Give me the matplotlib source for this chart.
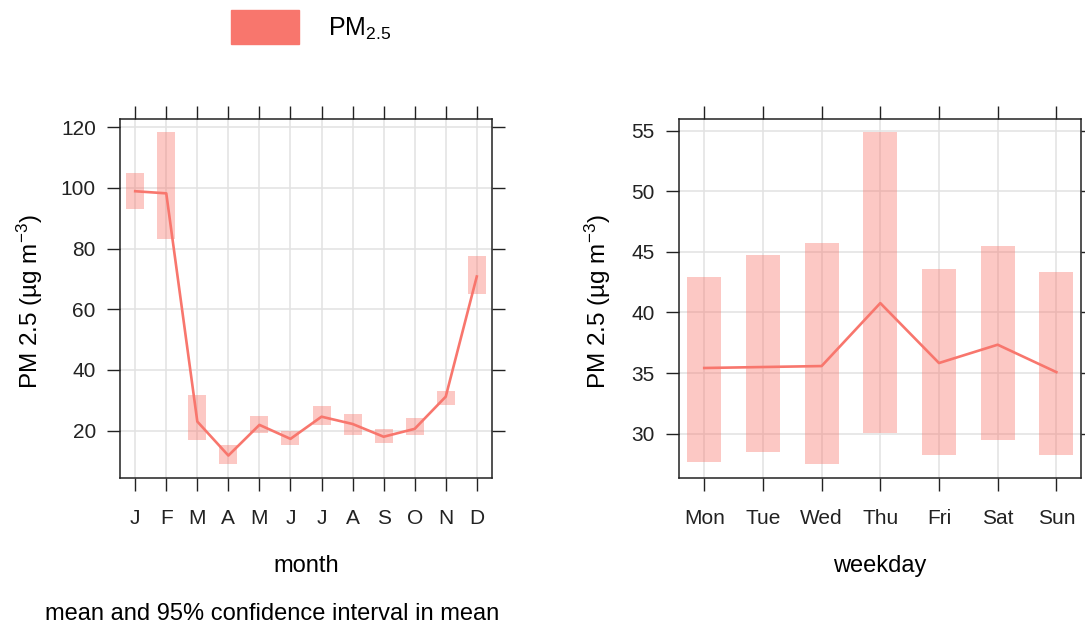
import numpy as np
import matplotlib
matplotlib.use("Agg")
import matplotlib.pyplot as plt
from matplotlib.patches import Rectangle

plt.rcParams['font.family'] = ['Liberation Sans', 'DejaVu Sans']
plt.rcParams['mathtext.fontset'] = 'custom'
plt.rcParams['mathtext.rm'] = 'Liberation Sans'
plt.rcParams['mathtext.it'] = 'Liberation Sans:italic'
plt.rcParams['mathtext.default'] = 'regular'

# dati mensili (media e intervallo di confidenza al 95%)
mesi = ["J", "F", "M", "A", "M", "J", "J", "A", "S", "O", "N", "D"]
media_mese = [98.9, 98.2, 23.0, 11.8, 21.9, 17.3, 24.6, 22.2, 18.0, 20.6, 31.2, 70.8]
ci_basso_mese = [93.2, 83.1, 16.9, 9.0, 19.2, 15.3, 21.9, 18.6, 15.8, 18.6, 28.5, 65.0]
ci_alto_mese = [104.8, 118.4, 31.6, 15.3, 24.9, 20.0, 28.1, 25.4, 20.5, 24.1, 33.2, 77.4]

# dati per giorno della settimana
giorni = ["Mon", "Tue", "Wed", "Thu", "Fri", "Sat", "Sun"]
media_giorno = [35.42, 35.5, 35.58, 40.77, 35.83, 37.34, 35.08]
ci_basso_giorno = [27.67, 28.49, 27.53, 30.05, 28.24, 29.5, 28.24]
ci_alto_giorno = [42.89, 44.73, 45.72, 54.9, 43.6, 45.44, 43.33]

colore = "#F8766D"
W, H = 1085, 631
fig = plt.figure(figsize=(W / 100, H / 100), dpi=100)


def pannello(rect, etichette, media, basso, alto, yticks, ylim, xlim, xlabel, ylab_x):
    ax = fig.add_axes(rect)
    x = np.arange(len(etichette))
    ax.bar(x, np.array(alto) - np.array(basso), bottom=basso, width=0.58,
           color=colore, alpha=0.4, linewidth=0, zorder=2)
    ax.plot(x, media, color=colore, lw=1.9, zorder=3)
    ax.set_xticks(x)
    ax.set_xticklabels(etichette)
    ax.set_yticks(yticks)
    ax.set_ylim(*ylim)
    ax.set_xlim(*xlim)
    ax.grid(True, color="#e2e2e2", lw=1.1, zorder=0)
    ax.set_axisbelow(True)
    ax.tick_params(direction="out", length=9.4, width=1, labelsize=15,
                   top=True, right=True, colors="#222222")
    ax.tick_params(axis="y", pad=8)
    ax.tick_params(axis="x", pad=13)
    for s in ax.spines.values():
        s.set_linewidth(1.1)
        s.set_color("#222222")
    ax.set_xlabel(xlabel, fontsize=17, va="center")
    ax.set_ylabel("PM 2.5 (µg m$^{-3}$)", fontsize=17.5, va="center")
    ax.xaxis.set_label_coords(0.5, -0.245)
    ax.yaxis.set_label_coords(ylab_x, 0.49)
    return ax


pannello([120 / W, 1 - 478 / H, 372 / W, 359 / H], mesi, media_mese,
         ci_basso_mese, ci_alto_mese, [20, 40, 60, 80, 100, 120],
         (4.4, 122.7), (-0.49, 11.49), "month", (30 - 120) / 372)
pannello([679 / W, 1 - 478 / H, 402 / W, 359 / H], giorni, media_giorno,
         ci_basso_giorno, ci_alto_giorno, [30, 35, 40, 45, 50, 55],
         (26.35, 55.95), (-0.43, 6.42), "weekday", (598 - 679) / 402)

# legenda in alto
fig.patches.append(Rectangle((231 / W, 1 - 44 / H), 68 / W, 34 / H,
                             transform=fig.transFigure, color=colore))
fig.text(328 / W, 1 - 29 / H, "PM$_{2.5}$", fontsize=18, va="center")

fig.text(272 / W, 1 - 614 / H, "mean and 95% confidence interval in mean",
         fontsize=17, ha="center", va="center")

plt.savefig("out.png", dpi=100)
